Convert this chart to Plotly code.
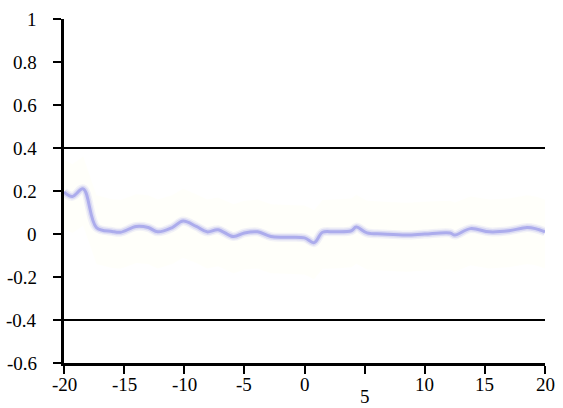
import plotly.graph_objects as go

# Series: lag (x) and estimated coefficient (y)
lags = [-20, -19.3, -18.4, -17.3, -16, -15.3, -14, -13, -12.2, -11, -10.1, -9, -8.1,
        -7.2, -5.9, -5, -3.9, -2.8, -1.5, 0, 0.8, 1.5, 2.5, 3.9, 4.3, 5.2, 6.5, 8.5,
        10, 12.1, 12.5, 13.8, 15.4, 17, 18.5, 19.2, 20]
coef = [0.195, 0.175, 0.21, 0.03, 0.012, 0.008, 0.035, 0.03, 0.01, 0.03, 0.06, 0.035,
        0.01, 0.02, -0.012, 0.005, 0.01, -0.012, -0.015, -0.018, -0.04, 0.008, 0.01,
        0.015, 0.032, 0.005, 0.0, -0.005, 0.0, 0.005, -0.005, 0.025, 0.01, 0.015, 0.03,
        0.025, 0.01]
band_up = [c + 0.15 for c in coef]
band_lo = [c - 0.17 for c in coef]

ref_levels = [0.4, -0.4]
y_ticks = [1, 0.8, 0.6, 0.4, 0.2, 0, -0.2, -0.4, -0.6]
y_text = ["1", "0.8", "0.6", "0.4", "0.2", "0", "-0.2", "-0.4", "-0.6"]
x_ticks = [-20, -15, -10, -5, 0, 5, 10, 15, 20]
x_text = ["-20", "-15", "-10", "-5", "0", "5", "10", "15", "20"]

SERIF = "Liberation Serif"

fig = go.Figure()

# faint confidence band
fig.add_trace(go.Scatter(x=lags, y=band_up, mode="lines", line=dict(width=0),
                         hoverinfo="skip", showlegend=False))
fig.add_trace(go.Scatter(x=lags, y=band_lo, mode="lines", line=dict(width=0),
                         fill="tonexty", fillcolor="rgba(255,252,215,0.12)",
                         hoverinfo="skip", showlegend=False))

# soft halo + core line
fig.add_trace(go.Scatter(x=lags, y=coef, mode="lines", line_shape="spline",
                         line=dict(color="rgba(170,170,236,0.15)", width=9, smoothing=1.0),
                         hoverinfo="skip", showlegend=False))
fig.add_trace(go.Scatter(x=lags, y=coef, mode="lines", line_shape="spline",
                         line=dict(color="rgba(165,165,235,0.3)", width=6, smoothing=1.0),
                         hoverinfo="skip", showlegend=False))
fig.add_trace(go.Scatter(x=lags, y=coef, mode="lines", line_shape="spline",
                         line=dict(color="#acacec", width=3, smoothing=1.0),
                         showlegend=False))

for lv in ref_levels:
    fig.add_shape(type="line", xref="paper", x0=0, x1=1, yref="y", y0=lv, y1=lv,
                  line=dict(color="black", width=2))

# x tick labels (the "5" sits a bit lower)
for v, t in zip(x_ticks, x_text):
    fig.add_annotation(x=v, xref="x", y=0, yref="paper", text=t, showarrow=False,
                       yanchor="top", yshift=-9 if t != "5" else -21,
                       font=dict(family=SERIF, size=19, color="black"))

# y tick labels
for v, t in zip(y_ticks, y_text):
    fig.add_annotation(x=0, xref="paper", y=v, yref="y", text=t, showarrow=False,
                       xanchor="right", xshift=-25,
                       font=dict(family=SERIF, size=19, color="black"))

fig.update_layout(
    width=563, height=408,
    margin=dict(l=64, r=18, t=19, b=45),
    paper_bgcolor="white", plot_bgcolor="white",
    xaxis=dict(range=[-20, 20], showgrid=False, zeroline=False, automargin=False,
               showline=True, linecolor="black", linewidth=3,
               ticks="outside", ticklen=8, tickwidth=2, tickcolor="black",
               tickvals=x_ticks, showticklabels=False),
    yaxis=dict(range=[-0.6, 1], showgrid=False, zeroline=False, automargin=False,
               showline=True, linecolor="black", linewidth=3,
               ticks="outside", ticklen=8, tickwidth=2, tickcolor="black",
               tickvals=y_ticks, showticklabels=False),
)

fig.write_html("out.html")
